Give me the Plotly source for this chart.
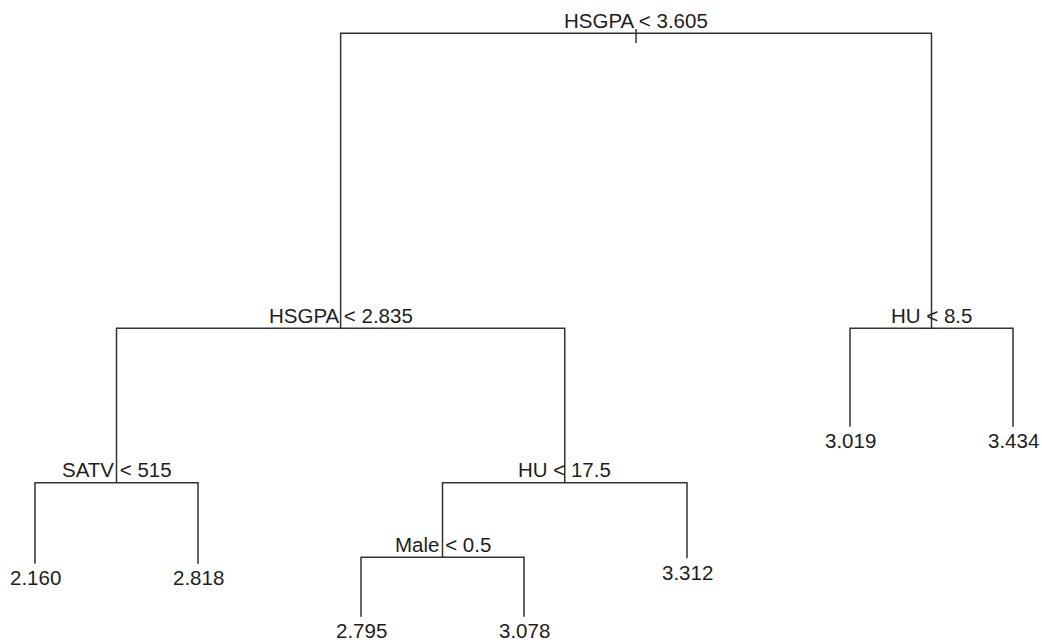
import plotly.graph_objects as go

# Regression tree for college GPA (binary-heap numbering: children of n are 2n, 2n+1)
node_ids = [1, 2, 3, 4, 5, 6, 7, 8, 9, 10, 11, 20, 21]
split_labels = {
    1: "HSGPA < 3.605",
    2: "HSGPA < 2.835",
    3: "HU < 8.5",
    4: "SATV < 515",
    5: "HU < 17.5",
    10: "Male < 0.5",
}
leaf_values = {
    6: "3.019",
    7: "3.434",
    8: "2.160",
    9: "2.818",
    11: "3.312",
    20: "2.795",
    21: "3.078",
}
# vertical position of each node (deviance-proportional heights)
node_height = {
    1: 609.7,
    2: 314.7,
    3: 314.7,
    4: 160.3,
    5: 160.3,
    6: 216.3,
    7: 216.3,
    8: 79.3,
    9: 79.3,
    10: 85.7,
    11: 84.7,
    20: 26.3,
    21: 26.3,
}

LINE_COLOR = "#333333"
TEXT_COLOR = "#1e1e1e"
FONT = "Liberation Sans, Arial, sans-serif"
FONT_SIZE = 20.5
# root marker extends slightly above and below the root bar
ROOT_MARK_UP, ROOT_MARK_DOWN = 4.3, 9.7

ids = set(node_ids)


def children(n):
    return [c for c in (2 * n, 2 * n + 1) if c in ids]


# in-order traversal: leaves get consecutive x positions, splits sit midway
node_x = {}
leaf_counter = [0]


def place(n):
    kids = children(n)
    if not kids:
        leaf_counter[0] += 1
        node_x[n] = float(leaf_counter[0])
        return node_x[n]
    xs = [place(c) for c in kids]
    node_x[n] = sum(xs) / len(xs)
    return node_x[n]


place(1)

# branch segments: horizontal bar at the split, verticals down to each child
seg_x, seg_y = [], []
for n in node_ids:
    kids = children(n)
    if not kids:
        continue
    l, r = kids
    y0 = node_height[n]
    seg_x += [node_x[l], node_x[l], node_x[r], node_x[r], None]
    seg_y += [node_height[l], y0, y0, node_height[r], None]

# short tick marking the root
seg_x += [node_x[1], node_x[1], None]
seg_y += [node_height[1] + ROOT_MARK_UP, node_height[1] - ROOT_MARK_DOWN, None]

fig = go.Figure()
fig.add_trace(
    go.Scatter(
        x=seg_x,
        y=seg_y,
        mode="lines",
        line=dict(color=LINE_COLOR, width=1.5),
        hoverinfo="skip",
        showlegend=False,
    )
)

annotations = []
for n, text in split_labels.items():
    annotations.append(
        dict(
            x=node_x[n], y=node_height[n], text=text,
            xanchor="center", yanchor="bottom", yshift=-0.5,
            showarrow=False,
            font=dict(family=FONT, size=FONT_SIZE, color=TEXT_COLOR),
        )
    )
for n, text in leaf_values.items():
    annotations.append(
        dict(
            x=node_x[n], y=node_height[n], text=text,
            xanchor="center", yanchor="top", yshift=-0.5,
            showarrow=False,
            font=dict(family=FONT, size=FONT_SIZE, color=TEXT_COLOR),
        )
    )

fig.update_layout(
    width=1042,
    height=643,
    margin=dict(l=0, r=0, t=0, b=0),
    paper_bgcolor="white",
    plot_bgcolor="white",
    xaxis=dict(range=[0.7853, 7.1779], visible=False, fixedrange=True),
    yaxis=dict(range=[0, 643], visible=False, fixedrange=True),
    annotations=annotations,
)

fig.write_html("out.html")
